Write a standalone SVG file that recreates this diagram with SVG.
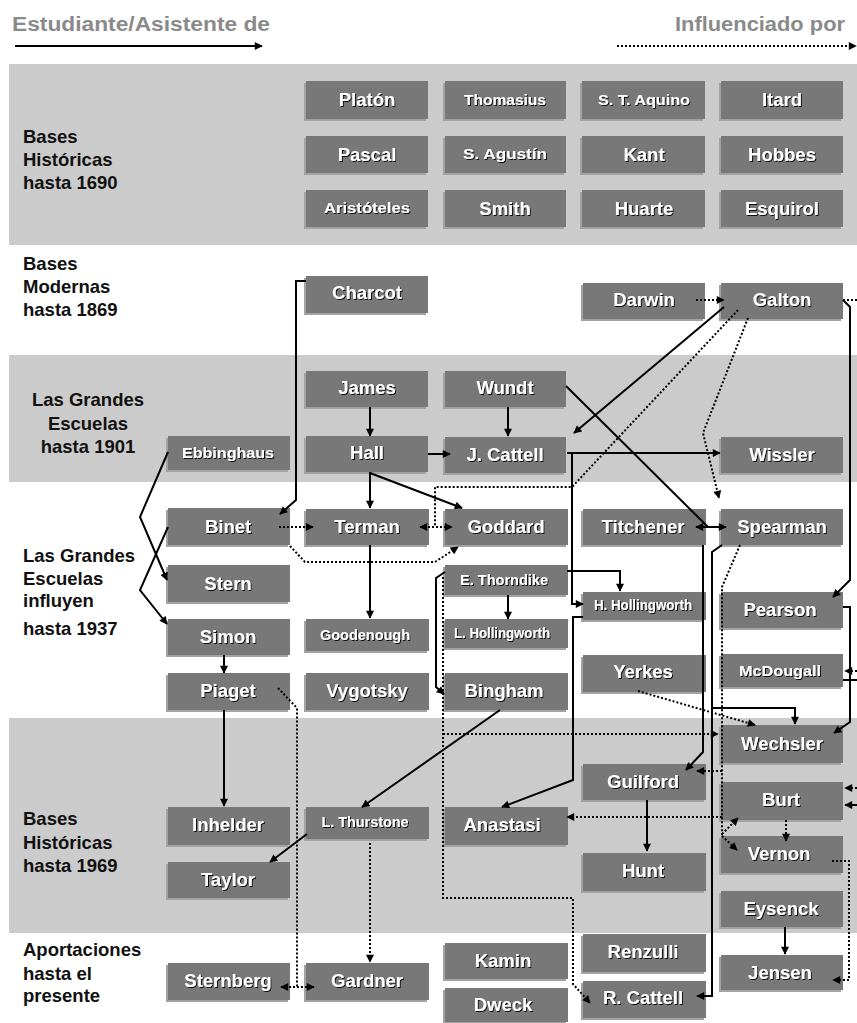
<svg xmlns="http://www.w3.org/2000/svg" width="857" height="1023" viewBox="0 0 857 1023">
<defs>
<style>
.band{fill:#cbcbcb}
.sh{fill:#a2a2a2}
.bx{fill:#787878}
.t{font-family:"Liberation Sans",Arial,sans-serif;font-weight:bold;font-size:18.5px;fill:#fff;text-anchor:middle;filter:url(#ts)}
.s{font-size:14px}
.lab{font-family:"Liberation Sans",Arial,sans-serif;font-weight:bold;font-size:18.5px;fill:#111}
.hd{font-family:"Liberation Sans",Arial,sans-serif;font-weight:bold;font-size:20px;fill:#8a8a8a}
.so{fill:none;stroke:#000;stroke-width:2}
.dt{fill:none;stroke:#000;stroke-width:2;stroke-dasharray:2 2}
.a{marker-end:url(#ah)}
.b{marker-start:url(#ah);marker-end:url(#ah)}
</style>
<marker id="ah" viewBox="0 0 10 10" refX="9" refY="5" markerWidth="9" markerHeight="8" markerUnits="userSpaceOnUse" orient="auto-start-reverse"><path d="M0,0 L10,5 L0,10 z" fill="#000"/></marker>
<filter id="ts" x="-10%" y="-30%" width="130%" height="170%"><feDropShadow dx="1" dy="1" stdDeviation="0.3" flood-color="#000" flood-opacity="0.9"/></filter>
</defs>
<rect width="857" height="1023" fill="#fff"/>
<g id="bands">
<rect class="band" x="9" y="64" width="848" height="181"/>
<rect class="band" x="9" y="355" width="848" height="127"/>
<rect class="band" x="9" y="718" width="848" height="215"/>
</g>
<g id="legend">
<text class="hd" x="12" y="31" textLength="258" lengthAdjust="spacingAndGlyphs">Estudiante/Asistente de</text>
<text class="hd" x="675" y="31" textLength="170" lengthAdjust="spacingAndGlyphs">Influenciado por</text>
<path class="so a" d="M15,46 H262"/>
<path class="dt a" d="M617,46 H856"/>
</g>
<g id="labels">
<text class="lab" x="23" y="143"><tspan x="23">Bases</tspan><tspan x="23" y="166">Históricas</tspan><tspan x="23" y="189">hasta 1690</tspan></text>
<text class="lab" x="23" y="270"><tspan x="23">Bases</tspan><tspan x="23" y="293">Modernas</tspan><tspan x="23" y="316">hasta 1869</tspan></text>
<text class="lab" x="88" y="406" text-anchor="middle"><tspan x="88">Las Grandes</tspan><tspan x="88" y="430">Escuelas</tspan><tspan x="88" y="453">hasta 1901</tspan></text>
<text class="lab" x="23" y="562"><tspan x="23">Las Grandes</tspan><tspan x="23" y="585">Escuelas</tspan><tspan x="23" y="607">influyen</tspan><tspan x="23" y="635">hasta 1937</tspan></text>
<text class="lab" x="23" y="825"><tspan x="23">Bases</tspan><tspan x="23" y="849">Históricas</tspan><tspan x="23" y="872">hasta 1969</tspan></text>
<text class="lab" x="23" y="956"><tspan x="23">Aportaciones</tspan><tspan x="23" y="980">hasta el</tspan><tspan x="23" y="1002">presente</tspan></text>
</g>
<g id="n-platon"><rect class="sh" x="304" y="83" width="122" height="38"/><rect class="bx" x="306" y="81" width="122" height="38"/><text class="t" x="367" y="106">Platón</text></g>
<g id="n-thomasius"><rect class="sh" x="443" y="83" width="121" height="38"/><rect class="bx" x="445" y="81" width="121" height="38"/><text class="t s" x="505" y="105" textLength="82" lengthAdjust="spacingAndGlyphs">Thomasius</text></g>
<g id="n-aquino"><rect class="sh" x="580" y="83" width="123" height="38"/><rect class="bx" x="582" y="81" width="123" height="38"/><text class="t s" x="644" y="105" textLength="92" lengthAdjust="spacingAndGlyphs">S. T. Aquino</text></g>
<g id="n-itard"><rect class="sh" x="719" y="83" width="122" height="38"/><rect class="bx" x="721" y="81" width="122" height="38"/><text class="t" x="782" y="106">Itard</text></g>
<g id="n-pascal"><rect class="sh" x="304" y="138" width="122" height="37"/><rect class="bx" x="306" y="136" width="122" height="37"/><text class="t" x="367" y="161">Pascal</text></g>
<g id="n-agustin"><rect class="sh" x="443" y="138" width="121" height="37"/><rect class="bx" x="445" y="136" width="121" height="37"/><text class="t s" x="505" y="159" textLength="84" lengthAdjust="spacingAndGlyphs">S. Agustín</text></g>
<g id="n-kant"><rect class="sh" x="580" y="138" width="123" height="37"/><rect class="bx" x="582" y="136" width="123" height="37"/><text class="t" x="644" y="161">Kant</text></g>
<g id="n-hobbes"><rect class="sh" x="719" y="138" width="122" height="37"/><rect class="bx" x="721" y="136" width="122" height="37"/><text class="t" x="782" y="161">Hobbes</text></g>
<g id="n-aristoteles"><rect class="sh" x="304" y="192" width="122" height="37"/><rect class="bx" x="306" y="190" width="122" height="37"/><text class="t s" x="367" y="213" textLength="86" lengthAdjust="spacingAndGlyphs">Aristóteles</text></g>
<g id="n-smith"><rect class="sh" x="443" y="192" width="121" height="37"/><rect class="bx" x="445" y="190" width="121" height="37"/><text class="t" x="505" y="215">Smith</text></g>
<g id="n-huarte"><rect class="sh" x="580" y="192" width="123" height="37"/><rect class="bx" x="582" y="190" width="123" height="37"/><text class="t" x="644" y="215">Huarte</text></g>
<g id="n-esquirol"><rect class="sh" x="719" y="192" width="122" height="37"/><rect class="bx" x="721" y="190" width="122" height="37"/><text class="t" x="782" y="215">Esquirol</text></g>
<g id="n-charcot"><rect class="sh" x="304" y="278" width="122" height="37"/><rect class="bx" x="306" y="276" width="122" height="37"/><text class="t" x="367" y="299">Charcot</text></g>
<g id="n-darwin"><rect class="sh" x="581" y="285" width="122" height="36"/><rect class="bx" x="583" y="283" width="122" height="36"/><text class="t" x="644" y="306">Darwin</text></g>
<g id="n-galton"><rect class="sh" x="719" y="285" width="122" height="36"/><rect class="bx" x="721" y="283" width="122" height="36"/><text class="t" x="782" y="306">Galton</text></g>
<g id="n-james"><rect class="sh" x="304" y="373" width="122" height="36"/><rect class="bx" x="306" y="371" width="122" height="36"/><text class="t" x="367" y="394">James</text></g>
<g id="n-wundt"><rect class="sh" x="443" y="373" width="121" height="36"/><rect class="bx" x="445" y="371" width="121" height="36"/><text class="t" x="505" y="394">Wundt</text></g>
<g id="n-ebbinghaus"><rect class="sh" x="166" y="438" width="122" height="34"/><rect class="bx" x="168" y="436" width="122" height="34"/><text class="t s" x="228" y="458" textLength="92" lengthAdjust="spacingAndGlyphs">Ebbinghaus</text></g>
<g id="n-hall"><rect class="sh" x="304" y="438" width="122" height="36"/><rect class="bx" x="306" y="436" width="122" height="36"/><text class="t" x="367" y="459">Hall</text></g>
<g id="n-jcattell"><rect class="sh" x="443" y="439" width="121" height="36"/><rect class="bx" x="445" y="437" width="121" height="36"/><text class="t" x="505" y="461">J. Cattell</text></g>
<g id="n-wissler"><rect class="sh" x="719" y="439" width="122" height="36"/><rect class="bx" x="721" y="437" width="122" height="36"/><text class="t" x="782" y="461">Wissler</text></g>
<g id="n-binet"><rect class="sh" x="166" y="510" width="122" height="37"/><rect class="bx" x="168" y="508" width="122" height="37"/><text class="t" x="228" y="533">Binet</text></g>
<g id="n-terman"><rect class="sh" x="304" y="511" width="123" height="36"/><rect class="bx" x="306" y="509" width="123" height="36"/><text class="t" x="367" y="533">Terman</text></g>
<g id="n-goddard"><rect class="sh" x="443" y="511" width="123" height="36"/><rect class="bx" x="445" y="509" width="123" height="36"/><text class="t" x="506" y="533">Goddard</text></g>
<g id="n-titchener"><rect class="sh" x="581" y="511" width="123" height="36"/><rect class="bx" x="583" y="509" width="123" height="36"/><text class="t" x="643" y="533">Titchener</text></g>
<g id="n-spearman"><rect class="sh" x="719" y="511" width="122" height="36"/><rect class="bx" x="721" y="509" width="122" height="36"/><text class="t" x="782" y="533">Spearman</text></g>
<g id="n-stern"><rect class="sh" x="166" y="567" width="122" height="37"/><rect class="bx" x="168" y="565" width="122" height="37"/><text class="t" x="228" y="590">Stern</text></g>
<g id="n-ethorndike"><rect class="sh" x="443" y="567" width="123" height="30"/><rect class="bx" x="445" y="565" width="123" height="30"/><text class="t s" x="504" y="585" textLength="88" lengthAdjust="spacingAndGlyphs">E. Thorndike</text></g>
<g id="n-hhollingworth"><rect class="sh" x="581" y="594" width="123" height="28"/><rect class="bx" x="583" y="592" width="123" height="28"/><text class="t s" x="643" y="610" textLength="98" lengthAdjust="spacingAndGlyphs">H. Hollingworth</text></g>
<g id="n-pearson"><rect class="sh" x="719" y="594" width="122" height="36"/><rect class="bx" x="721" y="592" width="122" height="36"/><text class="t" x="780" y="616">Pearson</text></g>
<g id="n-simon"><rect class="sh" x="166" y="621" width="122" height="36"/><rect class="bx" x="168" y="619" width="122" height="36"/><text class="t" x="228" y="643">Simon</text></g>
<g id="n-goodenough"><rect class="sh" x="304" y="621" width="123" height="32"/><rect class="bx" x="306" y="619" width="123" height="32"/><text class="t s" x="365" y="640" textLength="90" lengthAdjust="spacingAndGlyphs">Goodenough</text></g>
<g id="n-lhollingworth"><rect class="sh" x="443" y="621" width="123" height="29"/><rect class="bx" x="445" y="619" width="123" height="29"/><text class="t s" x="502" y="638" textLength="96" lengthAdjust="spacingAndGlyphs">L. Hollingworth</text></g>
<g id="n-yerkes"><rect class="sh" x="581" y="657" width="123" height="37"/><rect class="bx" x="583" y="655" width="123" height="37"/><text class="t" x="643" y="678">Yerkes</text></g>
<g id="n-mcdougall"><rect class="sh" x="719" y="656" width="122" height="33"/><rect class="bx" x="721" y="654" width="122" height="33"/><text class="t s" x="780" y="676" textLength="82" lengthAdjust="spacingAndGlyphs">McDougall</text></g>
<g id="n-piaget"><rect class="sh" x="166" y="675" width="122" height="37"/><rect class="bx" x="168" y="673" width="122" height="37"/><text class="t" x="228" y="697">Piaget</text></g>
<g id="n-vygotsky"><rect class="sh" x="304" y="675" width="123" height="37"/><rect class="bx" x="306" y="673" width="123" height="37"/><text class="t" x="367" y="697">Vygotsky</text></g>
<g id="n-bingham"><rect class="sh" x="443" y="675" width="123" height="37"/><rect class="bx" x="445" y="673" width="123" height="37"/><text class="t" x="504" y="697">Bingham</text></g>
<g id="n-wechsler"><rect class="sh" x="719" y="727" width="122" height="38"/><rect class="bx" x="721" y="725" width="122" height="38"/><text class="t" x="782" y="750">Wechsler</text></g>
<g id="n-guilford"><rect class="sh" x="581" y="766" width="123" height="36"/><rect class="bx" x="583" y="764" width="123" height="36"/><text class="t" x="643" y="788">Guilford</text></g>
<g id="n-burt"><rect class="sh" x="719" y="784" width="122" height="38"/><rect class="bx" x="721" y="782" width="122" height="38"/><text class="t" x="781" y="806">Burt</text></g>
<g id="n-inhelder"><rect class="sh" x="166" y="809" width="122" height="38"/><rect class="bx" x="168" y="807" width="122" height="38"/><text class="t" x="228" y="831">Inhelder</text></g>
<g id="n-lthurstone"><rect class="sh" x="304" y="809" width="123" height="32"/><rect class="bx" x="306" y="807" width="123" height="32"/><text class="t s" x="365" y="827" textLength="87" lengthAdjust="spacingAndGlyphs">L. Thurstone</text></g>
<g id="n-anastasi"><rect class="sh" x="443" y="809" width="123" height="38"/><rect class="bx" x="445" y="807" width="123" height="38"/><text class="t" x="502" y="831">Anastasi</text></g>
<g id="n-vernon"><rect class="sh" x="719" y="838" width="122" height="37"/><rect class="bx" x="721" y="836" width="122" height="37"/><text class="t" x="779" y="860">Vernon</text></g>
<g id="n-hunt"><rect class="sh" x="581" y="855" width="123" height="38"/><rect class="bx" x="583" y="853" width="123" height="38"/><text class="t" x="643" y="877">Hunt</text></g>
<g id="n-taylor"><rect class="sh" x="166" y="864" width="122" height="36"/><rect class="bx" x="168" y="862" width="122" height="36"/><text class="t" x="228" y="886">Taylor</text></g>
<g id="n-eysenck"><rect class="sh" x="719" y="893" width="122" height="36"/><rect class="bx" x="721" y="891" width="122" height="36"/><text class="t" x="781" y="915">Eysenck</text></g>
<g id="n-renzulli"><rect class="sh" x="581" y="936" width="123" height="38"/><rect class="bx" x="583" y="934" width="123" height="38"/><text class="t" x="643" y="958">Renzulli</text></g>
<g id="n-kamin"><rect class="sh" x="443" y="945" width="123" height="36"/><rect class="bx" x="445" y="943" width="123" height="36"/><text class="t" x="503" y="967">Kamin</text></g>
<g id="n-jensen"><rect class="sh" x="719" y="957" width="122" height="35"/><rect class="bx" x="721" y="955" width="122" height="35"/><text class="t" x="780" y="979">Jensen</text></g>
<g id="n-sternberg"><rect class="sh" x="166" y="965" width="122" height="37"/><rect class="bx" x="168" y="963" width="122" height="37"/><text class="t" x="228" y="987">Sternberg</text></g>
<g id="n-gardner"><rect class="sh" x="304" y="965" width="123" height="37"/><rect class="bx" x="306" y="963" width="123" height="37"/><text class="t" x="367" y="987">Gardner</text></g>
<g id="n-rcattell"><rect class="sh" x="581" y="983" width="123" height="37"/><rect class="bx" x="583" y="981" width="123" height="37"/><text class="t" x="643" y="1004">R. Cattell</text></g>
<g id="n-dweck"><rect class="sh" x="443" y="990" width="123" height="34"/><rect class="bx" x="445" y="988" width="123" height="34"/><text class="t" x="503" y="1011">Dweck</text></g>
<g id="connectors">
<path class="so a" d="M306,281 H296 V500 L280,514"/>
<path class="so a" d="M370,407 V436"/>
<path class="so a" d="M508,407 V436"/>
<path class="so a" d="M428,454 H450"/>
<path class="so a" d="M724,307 L574,433"/>
<path class="so a" d="M567,453 H720"/>
<path class="so a" d="M572,453 V604 H583"/>
<path class="so" d="M566,386 L708,527"/>
<path class="so b" d="M696,527 H726"/>
<path class="so a" d="M370,472 V508"/>
<path class="so a" d="M370,473 L462,508"/>
<path class="so a" d="M370,545 V618"/>
<path class="so a" d="M168,452 L140,517 L167,580"/>
<path class="so a" d="M168,527 L140,590 L167,624"/>
<path class="so a" d="M224,655 V673"/>
<path class="so a" d="M224,710 V806"/>
<path class="so a" d="M307,834 L270,862"/>
<path class="so a" d="M500,710 L362,807"/>
<path class="so a" d="M508,595 V619"/>
<path class="so a" d="M567,571 H620 V591"/>
<path class="so a" d="M445,572 L436,578 V687 L444,694"/>
<path class="so a" d="M583,617 H573 V780 L502,807"/>
<path class="so a" d="M703,545 V752 L686,770"/>
<path class="so a" d="M722,545 L712,552 V996 H697"/>
<path class="so a" d="M712,708 H795 V724"/>
<path class="so a" d="M843,300 L850,307 V580 L833,597"/>
<path class="so a" d="M843,607 H850 V722 L834,733"/>
<path class="so" d="M843,680 H857"/>
<path class="so a" d="M857,805 H845"/>
<path class="so a" d="M785,927 V954"/>
<path class="so a" d="M647,800 V851"/>
<path class="dt a" d="M696,300 H724"/>
<path class="dt" d="M843,300 H857"/>
<path class="dt" d="M738,310 L572,487 H435 V527"/>
<path class="dt b" d="M420,527 H452"/>
<path class="dt a" d="M279,527 H313"/>
<path class="dt a" d="M748,318 L703,433 L719,498"/>
<path class="dt a" d="M290,546 L305,562 H435 L458,547"/>
<path class="dt" d="M278,688 L297,708 V987"/>
<path class="dt b" d="M281,987 H314"/>
<path class="dt a" d="M370,843 V962"/>
<path class="dt a" d="M638,691 L755,725"/>
<path class="dt a" d="M443,577 V898 H573 V984 L590,1003"/>
<path class="dt a" d="M443,734 H718"/>
<path class="dt" d="M740,545 L722,587 V836"/>
<path class="dt a" d="M722,771 H697"/>
<path class="dt a" d="M722,817 H567"/>
<path class="dt a" d="M722,834 L738,818"/>
<path class="dt a" d="M722,836 L737,850"/>
<path class="dt a" d="M786,820 V841"/>
<path class="dt a" d="M832,861 H849 V980 H833"/>
<path class="dt a" d="M857,671 H845"/>
<path class="dt a" d="M857,788 H845"/>
</g>
</svg>
